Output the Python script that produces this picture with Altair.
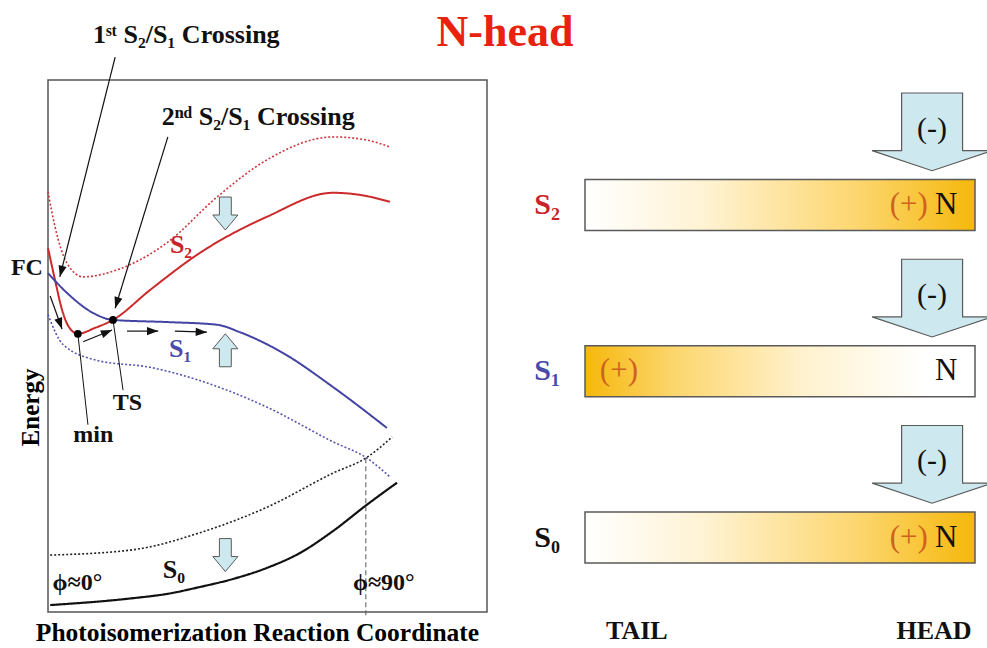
import math
import altair as alt
import pandas as pd

W, H = 439, 532
PAD = {"left": 48, "top": 80, "right": 500, "bottom": 36}
SERIF = "Liberation Serif, DejaVu Serif, serif"

# ---------------- Left panel: energy (0-100) along reaction coordinate (0-100) ----------------
s2_x = [0, 1.6, 3.2, 4.6, 6.8, 10.7, 14.8, 23.2, 34.6, 49.9, 64.9, 71.1, 77.9]
s2_e = [68.4, 62.4, 56.8, 53.8, 52.3, 53.4, 54.9, 60.5, 67.5, 74.3, 78.8, 78.4, 77.1]
s2dia_x = [0, 1.6, 4.3, 8.0, 15.7, 27.1, 38.5, 49.9, 64.9, 72.7, 77.9]
s2dia_e = [79.0, 72.4, 65.6, 63.0, 64.3, 69.4, 78.0, 85.0, 89.3, 88.7, 87.4]
s1_x = [0, 4.3, 10.3, 14.8, 27.1, 38.5, 43.7, 53.5, 64.9, 77.2]
s1_e = [63.7, 60.0, 56.2, 54.9, 54.5, 54.0, 52.6, 48.7, 42.3, 34.6]
s1dia_x = [0, 3.4, 11.2, 23.2, 34.6, 49.9, 64.9, 72.7, 77.9]
s1dia_e = [55.9, 50.3, 47.3, 46.0, 43.5, 38.5, 32.0, 28.9, 25.4]
s0_x = [0.5, 19.4, 27.1, 34.6, 42.1, 49.9, 57.4, 64.9, 72.7, 79.5]
s0_e = [1.3, 2.6, 3.4, 4.7, 6.2, 8.3, 11.1, 15.2, 20.2, 24.3]
s0dia_x = [0.5, 19.4, 34.6, 49.9, 64.9, 72.7, 78.4]
s0dia_e = [10.7, 11.7, 14.9, 19.7, 26.1, 29.1, 32.9]

# critical points: S1 minimum and transition state
crit_x = [6.8, 14.8]
crit_e = [52.3, 54.9]

# annotation arrows (start -> tip)
arr_x0 = [15.3, 27.3, 0.5, 8.0, 18.0, 28.9]
arr_e0 = [104.3, 89.3, 59.4, 50.8, 52.8, 52.8]
arr_x1 = [2.7, 15.3, 3.2, 14.6, 25.1, 36.2]
arr_e1 = [63.0, 57.1, 53.2, 53.0, 52.8, 52.6]

# leader lines for "min" and "TS"
lead_x0 = [6.8, 14.8]
lead_e0 = [52.3, 54.9]
lead_x1 = [9.1, 17.1]
lead_e1 = [35.2, 41.7]

# phi = 90 degrees crossing
cross_x = [72.4]
cross_e = [28.9]
cross_e2 = [-1.0]

# block arrows in the left panel
blk_x = [40.4, 40.4, 40.4]
blk_e = [74.9, 49.2, 10.7]
blk_ang = [0, 180, 0]

# left labels
lbl_black = ["FC", "ϕ≈0°", "ϕ≈90°", "min", "TS"]
lbl_black_x = [-4.8, 6.7, 76.5, 10.3, 18.1]
lbl_black_e = [64.7, 5.5, 5.5, 33.3, 39.3]
lbl_cross = ["1ˢᵗ S₂/S₁ Crossing", "2ⁿᵈ S₂/S₁ Crossing"]
lbl_cross_x = [31.5, 47.9]
lbl_cross_e = [108.5, 93.0]
lbl_states = ["S₂", "S₁", "S₀"]
lbl_states_x = [30.3, 30.1, 28.7]
lbl_states_e = [69.0, 49.4, 7.9]
title_text = ["N-head"]
title_x = [104.1]
title_e = [108.8]

# ---------------- Right panel: charge distribution along the chromophore (tail 0 -> head 1) ----------------
state_labels = ["S₂", "S₁", "S₀"]
state_rows = [2, 1, 0]
plus_pos = [0.83, 0.087, 0.83]
n_pos = [0.926, 0.926, 0.926]
minus_pos = [0.89, 0.89, 0.89]
minus_rise = 0.44
bar_half = 0.153
end_labels = ["TAIL", "HEAD"]
end_pos = [0.133, 0.895]
end_row = [-0.565, -0.565]

PXX, PXY = W / 100.0, H / 100.0

XS = alt.Scale(domain=[0, 100], nice=False, zero=False)
YS = alt.Scale(domain=[0, 100], nice=False, zero=False)
XAX = alt.Axis(title="Photoisomerization Reaction Coordinate", labels=False, ticks=False, domain=False,
               grid=False, titleFont=SERIF, titleFontSize=25.5, titleFontWeight="bold", titleColor="black",
               titlePadding=8, titleX=209)
YAX = alt.Axis(title="Energy", labels=False, ticks=False, domain=False, grid=False, titleFont=SERIF,
               titleFontSize=25, titleFontWeight="bold", titleColor="black", titlePadding=5, titleY=327)


def lx(f):
    return alt.X(f"{f}:Q", scale=XS, axis=XAX)


def ly(f):
    return alt.Y(f"{f}:Q", scale=YS, axis=YAX)


RXS = alt.Scale(domain=[0, 1], range=[537, 927], nice=False, zero=False)
RYS = alt.Scale(domain=[0, 2], range=[457.5, 125], nice=False, zero=False)


def rx(f):
    return alt.X(f"{f}:Q", scale=RXS, axis=None)


def ry(f):
    return alt.Y(f"{f}:Q", scale=RYS, axis=None)


def curve(xs, es, color, dash, width):
    df = pd.DataFrame({"x": xs, "e": es})
    return alt.Chart(df).mark_line(color=color, strokeDash=dash, strokeWidth=width,
                                   interpolate="monotone").encode(x=lx("x"), y=ly("e"))


def ltext(labels, xs, es, color, size, weight="bold"):
    df = pd.DataFrame({"label": labels, "x": xs, "e": es})
    return alt.Chart(df).mark_text(font=SERIF, fontSize=size, fontWeight=weight, color=color,
                                   align="center", baseline="middle").encode(x=lx("x"), y=ly("e"), text="label:N")


def rtext(labels, xs, rows, color, size, weight="bold"):
    df = pd.DataFrame({"label": labels, "x": xs, "r": rows})
    return alt.Chart(df).mark_text(font=SERIF, fontSize=size, fontWeight=weight, color=color,
                                   align="center", baseline="middle").encode(x=rx("x"), y=ry("r"), text="label:N")


HEAD = "M0,0L0.42,1.15L-0.42,1.15Z"
BLOCK_SMALL = "M-0.36,-1L0.36,-1L0.36,0.09L0.76,0.09L0,1L-0.76,0.09L-0.36,0.09Z"
BLOCK_BIG = "M-0.508,-0.6475L0.508,-0.6475L0.508,0.314L1,0.314L0,0.6475L-1,0.314L-0.508,0.314Z"
ICE = "#cde8ee"

arr = pd.DataFrame({"x0": arr_x0, "e0": arr_e0, "x1": arr_x1, "e1": arr_e1})
arr["ang"] = [
    (math.degrees(math.atan2((b - a) * PXX, (d - c) * PXY)) + 360) % 360
    for a, b, c, d in zip(arr["x0"], arr["x1"], arr["e0"], arr["e1"])
]

left_layers = [
    curve(s2dia_x, s2dia_e, "#c8383e", [2, 2], 1.6),
    curve(s1dia_x, s1dia_e, "#5656ad", [2, 2], 1.6),
    curve(s0dia_x, s0dia_e, "#222222", [2, 2], 1.6),
    curve(s2_x, s2_e, "#cc2a2a", [1, 0], 2),
    curve(s1_x, s1_e, "#4343a3", [1, 0], 2),
    curve(s0_x, s0_e, "#111111", [1, 0], 2.2),
    alt.Chart(pd.DataFrame({"x": cross_x, "e": cross_e, "e2": cross_e2})).mark_rule(
        color="#555555", strokeDash=[5, 3], strokeWidth=1).encode(x=lx("x"), y=ly("e"), y2="e2"),
    alt.Chart(pd.DataFrame({"x0": lead_x0, "e0": lead_e0, "x1": lead_x1, "e1": lead_e1})).mark_rule(
        color="#111111", strokeWidth=1).encode(x=lx("x0"), y=ly("e0"), x2="x1", y2="e1"),
    alt.Chart(arr).mark_rule(color="#111111", strokeWidth=1.2).encode(
        x=lx("x0"), y=ly("e0"), x2="x1", y2="e1"),
    alt.Chart(arr).mark_point(shape=HEAD, filled=True, color="#111111", size=380, opacity=1).encode(
        x=lx("x1"), y=ly("e1"), angle=alt.Angle("ang:Q", scale=None)),
    alt.Chart(pd.DataFrame({"x": crit_x, "e": crit_e})).mark_circle(color="black", size=60, opacity=1).encode(
        x=lx("x"), y=ly("e")),
    alt.Chart(pd.DataFrame({"x": blk_x, "e": blk_e, "ang": blk_ang})).mark_point(
        shape=BLOCK_SMALL, filled=True, fill=ICE, stroke="#5a5a5a", strokeWidth=1, size=1089, opacity=1).encode(
        x=lx("x"), y=ly("e"), angle=alt.Angle("ang:Q", scale=None)),
    ltext(lbl_black, lbl_black_x, lbl_black_e, "#111111", 24),
    ltext(lbl_cross, lbl_cross_x, lbl_cross_e, "#111111", 26),
    ltext(lbl_states[:1], lbl_states_x[:1], lbl_states_e[:1], "#c8252b", 26),
    ltext(lbl_states[1:2], lbl_states_x[1:2], lbl_states_e[1:2], "#4a4aa8", 26),
    ltext(lbl_states[2:], lbl_states_x[2:], lbl_states_e[2:], "#111111", 26),
    ltext(title_text, title_x, title_e, "#e8220e", 44),
]

GOLD_HEAD = alt.Gradient(gradient="linear", x1=0, x2=1, y1=0, y2=0, stops=[
    alt.GradientStop(color="#ffffff", offset=0),
    alt.GradientStop(color="#fff3d4", offset=0.3),
    alt.GradientStop(color="#fcd66e", offset=0.7),
    alt.GradientStop(color="#f6b80c", offset=1)])
GOLD_TAIL = alt.Gradient(gradient="linear", x1=1, x2=0, y1=0, y2=0, stops=[
    alt.GradientStop(color="#ffffff", offset=0),
    alt.GradientStop(color="#ffffff", offset=0.12),
    alt.GradientStop(color="#fff1cc", offset=0.45),
    alt.GradientStop(color="#fcd56a", offset=0.78),
    alt.GradientStop(color="#f6b80c", offset=1)])

bars = pd.DataFrame({"state": state_labels, "row": state_rows})
bars["y0"] = bars["row"] - bar_half
bars["y1"] = bars["row"] + bar_half
bars["x0"] = 0.0
bars["x1"] = 1.0
head_bars = bars[bars["state"] != "S₁"]
tail_bars = bars[bars["state"] == "S₁"]

arrows = pd.DataFrame({"x": minus_pos, "r": [r + minus_rise for r in state_rows], "t": ["(-)"] * 3})

right_layers = [
    alt.Chart(head_bars).mark_rect(fill=GOLD_HEAD, stroke="#5a5a5a", strokeWidth=1.5).encode(
        x=rx("x0"), x2="x1", y=ry("y0"), y2="y1"),
    alt.Chart(tail_bars).mark_rect(fill=GOLD_TAIL, stroke="#5a5a5a", strokeWidth=1.5).encode(
        x=rx("x0"), x2="x1", y=ry("y0"), y2="y1"),
    alt.Chart(arrows).mark_point(shape=BLOCK_BIG, filled=True, fill=ICE, stroke="#5a5a5a",
                                 strokeWidth=1.2, size=14400, opacity=1).encode(x=rx("x"), y=ry("r")),
    alt.Chart(arrows).mark_text(font=SERIF, fontSize=30, color="#111111", dy=-3).encode(
        x=rx("x"), y=ry("r"), text="t:N"),
    rtext(["(+)"] * 3, plus_pos, state_rows, "#d0621e", 31, "normal"),
    rtext(["N"] * 3, n_pos, state_rows, "#111111", 31, "normal"),
    rtext(state_labels[:1], [-0.097], state_rows[:1], "#c8252b", 30),
    rtext(state_labels[1:2], [-0.097], state_rows[1:2], "#4a4aa8", 30),
    rtext(state_labels[2:], [-0.097], state_rows[2:], "#111111", 30),
    rtext(end_labels, end_pos, end_row, "#111111", 26),
]

left = alt.layer(*left_layers)
right = alt.layer(*right_layers)

chart = alt.layer(left, right).resolve_scale(x="independent", y="independent").properties(
    width=W, height=H, autosize=alt.AutoSizeParams(type="none"), padding=PAD, background="white"
).configure_view(stroke="#555555", strokeWidth=1.5)

chart.save("out.html", embed_options={"renderer": "svg", "actions": False})
